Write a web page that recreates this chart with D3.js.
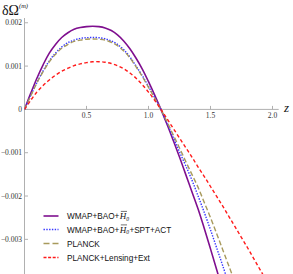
<!DOCTYPE html>
<html>
<head>
<meta charset="utf-8">
<script src="https://cdn.jsdelivr.net/npm/d3@7"></script>
<style>
	body { margin: 0; background: #fff; }
	svg { display: block; }
</style>
</head>
<body>
<script>
// redshift grid, step 0.05
var zValues = [];
for (var i = 0; i <= 40; i++) { zValues.push(+(i * 0.05).toFixed(2)); }

// delta Omega_m in units of 1e-3
var wmapBao = [0, 0.37, 0.72, 1.03, 1.3, 1.5, 1.66, 1.77, 1.85, 1.89, 1.91, 1.92, 1.91, 1.88, 1.82, 1.72, 1.58, 1.4, 1.18, 0.93, 0.64, 0.33, 0,
	-0.35, -0.72, -1.1, -1.5, -1.9, -2.3, -2.75, -3.22, -3.7, -4.2];
var wmapBaoSpt = [0, 0.32, 0.62, 0.89, 1.12, 1.3, 1.44, 1.54, 1.6, 1.64, 1.655, 1.66, 1.655, 1.63, 1.58, 1.5, 1.38, 1.21, 1.0, 0.78, 0.53, 0.27, 0,
	-0.32, -0.65, -0.98, -1.3, -1.63, -2.0, -2.38, -2.78, -3.2, -3.62, -4.05];
var planck = [0, 0.31, 0.61, 0.87, 1.1, 1.27, 1.41, 1.5, 1.57, 1.6, 1.62, 1.625, 1.62, 1.6, 1.55, 1.47, 1.35, 1.19, 0.98, 0.76, 0.51, 0.26, 0,
	-0.29, -0.59, -0.89, -1.2, -1.5, -1.8, -2.15, -2.5, -2.87, -3.25, -3.63, -4.0];
var planckLens = [0, 0.21, 0.4, 0.55, 0.68, 0.79, 0.88, 0.95, 1.01, 1.05, 1.08, 1.1, 1.1, 1.09, 1.06, 1.01, 0.94, 0.84, 0.72, 0.57, 0.4, 0.21, 0,
	-0.22, -0.44, -0.66, -0.88, -1.1, -1.33, -1.55, -1.78, -2.01, -2.24, -2.48, -2.72, -2.96, -3.2, -3.45, -3.7, -3.95, -4.2];

var xTicks = [0.5, 1.0, 1.5, 2.0];
var xTickLabels = ["0.5", "1.0", "1.5", "2.0"];
var yTicks = [2, 1, 0, -1, -2, -3];
var yTickLabels = ["0.002", "0.001", "0", "\u22120.001", "\u22120.002", "\u22120.003"];

var series = [
	{ values: wmapBao, color: "#7f0f8f", width: 1.6, dash: null, legendDash: null },
	{ values: wmapBaoSpt, color: "#3535ff", width: 1.4, dash: "1.4,1.4", legendDash: "1.4,1.4" },
	{ values: planck, color: "#a89a5c", width: 1.4, dash: "5,2.5", legendDash: "6,3" },
	{ values: planckLens, color: "#ff1a1a", width: 1.4, dash: "3.5,2.5", legendDash: "3,1.6" }
];

var w = 293;
var h = 274;
var svg = d3.select("body").append("svg")
	.attr("width", w)
	.attr("height", h);

var x = d3.scaleLinear().domain([0, 2.05]).range([24.5, 278.7]);
var y = d3.scaleLinear().domain([-3.8, 2.11]).range([274, 18]);
var axisColor = "#b0b0b0";

// axes
svg.append("line")
	.attr("x1", x(0)).attr("x2", x(2.05))
	.attr("y1", y(0)).attr("y2", y(0))
	.attr("stroke", axisColor).attr("stroke-width", 1);
svg.append("line")
	.attr("x1", x(0)).attr("x2", x(0))
	.attr("y1", y(2.11)).attr("y2", y(-3.8))
	.attr("stroke", axisColor).attr("stroke-width", 1);

svg.selectAll(".xt")
	.data(xTicks)
	.enter()
	.append("line")
	.attr("x1", function(d) { return x(d); })
	.attr("x2", function(d) { return x(d); })
	.attr("y1", y(0))
	.attr("y2", y(0) - 3.5)
	.attr("stroke", axisColor);
svg.selectAll(".xl")
	.data(xTicks)
	.enter()
	.append("text")
	.text(function(d, i) { return xTickLabels[i]; })
	.attr("x", function(d) { return x(d); })
	.attr("y", y(0) + 9)
	.attr("text-anchor", "middle")
	.attr("font-family", "Liberation Serif, serif")
	.attr("font-size", "7.5px")
	.attr("fill", "#333");

svg.selectAll(".yt")
	.data(yTicks)
	.enter()
	.append("line")
	.attr("x1", x(0))
	.attr("x2", x(0) + 3.5)
	.attr("y1", function(d) { return y(d); })
	.attr("y2", function(d) { return y(d); })
	.attr("stroke", axisColor);
svg.selectAll(".yl")
	.data(yTicks)
	.enter()
	.append("text")
	.text(function(d, i) { return yTickLabels[i]; })
	.attr("x", x(0) - 2.5)
	.attr("y", function(d) { return y(d) + 2.6; })
	.attr("text-anchor", "end")
	.attr("font-family", "Liberation Serif, serif")
	.attr("font-size", "7.5px")
	.attr("fill", "#333");

// axis labels
var yl = svg.append("text")
	.attr("x", 2)
	.attr("y", 15)
	.attr("font-family", "Liberation Serif, serif")
	.attr("font-size", "14px")
	.attr("fill", "#111");
yl.append("tspan").text("\u03b4\u03a9");
yl.append("tspan")
	.text("(m)")
	.attr("font-style", "italic")
	.attr("font-size", "6.5px")
	.attr("dy", -7);

svg.append("text")
	.text("z")
	.attr("x", 284)
	.attr("y", y(0) + 3)
	.attr("font-family", "Liberation Serif, serif")
	.attr("font-style", "italic")
	.attr("font-size", "13px")
	.attr("fill", "#111");

// curves
svg.append("clipPath").attr("id", "plot")
	.append("rect")
	.attr("x", x(0)).attr("y", y(2.11))
	.attr("width", x(2.05) - x(0))
	.attr("height", y(-3.8) - y(2.11));

var line = d3.line()
	.x(function(d) { return x(d[0]); })
	.y(function(d) { return y(d[1]); })
	.curve(d3.curveCatmullRom);

svg.append("g").attr("clip-path", "url(#plot)")
	.selectAll("path")
	.data(series)
	.enter()
	.append("path")
	.attr("d", function(s) {
		return line(s.values.map(function(v, i) { return [zValues[i], v]; }));
	})
	.attr("fill", "none")
	.attr("stroke", function(s) { return s.color; })
	.attr("stroke-width", function(s) { return s.width; })
	.attr("stroke-dasharray", function(s) { return s.dash; });

// legend
var legendY = [216, 229.5, 243.5, 257.5];
var font = "Liberation Sans, Arial, sans-serif";
svg.selectAll(".lg")
	.data(series)
	.enter()
	.append("line")
	.attr("x1", 43.5).attr("x2", 58.5)
	.attr("y1", function(d, i) { return legendY[i]; })
	.attr("y2", function(d, i) { return legendY[i]; })
	.attr("stroke", function(s) { return s.color; })
	.attr("stroke-width", function(s) { return s.width; })
	.attr("stroke-dasharray", function(s) { return s.legendDash; });

function plainText(str, px, py) {
	var t = svg.append("text")
		.text(str)
		.attr("x", px).attr("y", py)
		.attr("font-family", font)
		.attr("font-size", "8.2px")
		.attr("fill", "#111");
	return px + t.node().getComputedTextLength();
}

function hubbleText(px, py) {
	var t = svg.append("text")
		.text("H")
		.attr("x", px + 0.5).attr("y", py)
		.attr("font-family", "Liberation Serif, serif")
		.attr("font-style", "italic")
		.attr("font-size", "9px")
		.attr("fill", "#111");
	var hw = t.node().getComputedTextLength();
	svg.append("line")
		.attr("x1", px + 1.5).attr("x2", px + hw + 1.2)
		.attr("y1", py - 7.6).attr("y2", py - 7.6)
		.attr("stroke", "#111").attr("stroke-width", 0.6);
	var s = svg.append("text")
		.text("0")
		.attr("x", px + hw + 0.5).attr("y", py + 1.8)
		.attr("font-family", "Liberation Serif, serif")
		.attr("font-style", "italic")
		.attr("font-size", "5.5px")
		.attr("fill", "#111");
	return px + hw + 0.8 + s.node().getComputedTextLength();
}

var tx = 67;
var nx = plainText("WMAP+BAO+", tx, legendY[0] + 3);
hubbleText(nx, legendY[0] + 3);
nx = plainText("WMAP+BAO+", tx, legendY[1] + 3);
nx = hubbleText(nx, legendY[1] + 3);
plainText("+SPT+ACT", nx, legendY[1] + 3);
plainText("PLANCK", tx, legendY[2] + 3);
plainText("PLANCK+Lensing+Ext", tx, legendY[3] + 3);
</script>
</body>
</html>
